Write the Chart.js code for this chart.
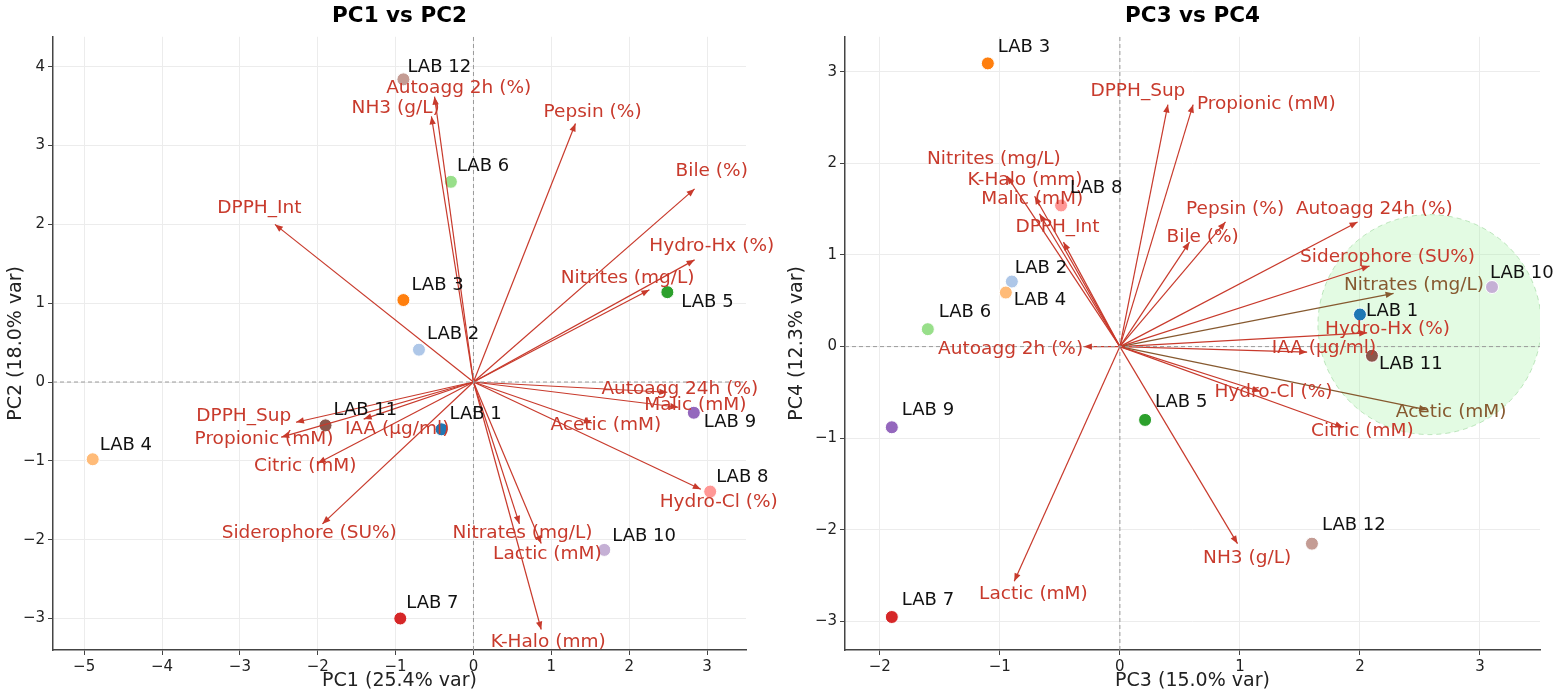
<!DOCTYPE html>
<html>
<head>
<meta charset="utf-8">
<script src="https://cdn.jsdelivr.net/npm/chart.js@4.4.1/dist/chart.umd.min.js"></script>
<style>
  body { margin: 0; background: #fff; }
  .box { position: absolute; top: 0; height: 697px; }
  #b1 { left: 0; width: 781px; }
  #b2 { left: 781px; width: 782px; }
</style>
</head>
<body>
<div class="box" id="b1"><canvas id="c1"></canvas></div>
<div class="box" id="b2"><canvas id="c2"></canvas></div>
<script>
// samples
const labs = ["LAB 1", "LAB 2", "LAB 3", "LAB 4", "LAB 5", "LAB 6", "LAB 7", "LAB 8", "LAB 9", "LAB 10", "LAB 11", "LAB 12"];
const pc1 = [-0.41, -0.70, -0.90, -4.89, 2.49, -0.29, -0.94, 3.04, 2.83, 1.68, -1.90, -0.90];
const pc2 = [-0.60, 0.41, 1.04, -0.98, 1.14, 2.54, -3.00, -1.39, -0.39, -2.13, -0.55, 3.84];
const pc3 = [2.00, -0.90, -1.10, -0.95, 0.21, -1.60, -1.90, -0.49, -1.90, 3.10, 2.10, 1.60];
const pc4 = [0.35, 0.71, 3.09, 0.59, -0.80, 0.19, -2.95, 1.54, -0.88, 0.65, -0.10, -2.15];

// variables (loading vectors, already scaled)
const variables = ["Autoagg 2h (%)", "Autoagg 24h (%)", "NH3 (g/L)", "Pepsin (%)", "Bile (%)", "DPPH_Int", "DPPH_Sup",
  "Hydro-Hx (%)", "Hydro-Cl (%)", "Nitrites (mg/L)", "Nitrates (mg/L)", "Malic (mM)", "Acetic (mM)", "Propionic (mM)",
  "Citric (mM)", "Lactic (mM)", "IAA (µg/ml)", "Siderophore (SU%)", "K-Halo (mm)"];
const load1 = [-0.50, 2.49, -0.54, 1.31, 2.84, -2.55, -2.28, 2.84, 2.92, 2.26, 0.59, 2.63, 1.52, -2.47, -2.00, 0.87, -1.41, -1.94, 0.87];
const load2 = [3.62, -0.13, 3.37, 3.28, 2.45, 2.00, -0.51, 1.55, -1.36, 1.17, -1.80, -0.32, -0.52, -0.70, -1.03, -2.05, -0.47, -1.80, -3.14];
const load3 = [-0.30, 1.98, 0.98, 0.88, 0.58, -0.47, 0.40, 2.06, 1.17, -0.94, 2.28, -0.67, 2.56, 0.61, 1.86, -0.88, 1.56, 2.08, -0.71];
const load4 = [0.00, 1.36, -2.15, 1.36, 1.14, 1.14, 2.64, 0.15, -0.49, 1.86, 0.58, 1.45, -0.69, 2.64, -0.88, -2.56, -0.06, 0.88, 1.64];

// where the variable names sit (text placement, data units)
const txt1 = [-0.19, 2.65, -1.00, 1.53, 3.06, -2.75, -2.95, 3.06, 3.15, 1.98, 0.63, 2.85, 1.70, -2.69, -2.16, 0.95, -0.98, -2.11, 0.96];
const txt2 = [3.73, -0.09, 3.48, 3.42, 2.68, 2.21, -0.43, 1.72, -1.52, 1.32, -1.92, -0.29, -0.55, -0.72, -1.07, -2.18, -0.60, -1.92, -3.30];
const txt3 = [-0.91, 2.12, 1.06, 0.96, 0.69, -0.52, 0.15, 2.23, 1.28, -1.05, 2.45, -0.73, 2.76, 1.22, 2.02, -0.72, 1.70, 2.23, -0.79];
const txt4 = [-0.03, 1.50, -2.31, 1.50, 1.19, 1.30, 2.79, 0.19, -0.50, 2.04, 0.67, 1.61, -0.72, 2.65, -0.92, -2.70, -0.02, 0.98, 1.82];

const labColors = ["#1f77b4", "#aec7e8", "#ff7f0e", "#ffbb78", "#2ca02c", "#98df8a", "#d62728", "#ff9896", "#9467bd", "#c5b0d5", "#8c564b", "#c49c94"];
const RED = "#c83a2c";
const BROWN = "#86592f";
const FONT = "'DejaVu Sans', Verdana, sans-serif";

// sample label offsets in px
const off12 = [[8,-15],[8,-15],[8,-15],[7,-14],[14,10],[6,-15],[6,-15],[6,-14],[10,10],[8,-14],[8,-15],[4,-12]];
const off34 = [[6,-3],[3,-13],[10,-16],[8,8],[10,-18],[11,-17],[10,-17],[9,-17],[10,-17],[-2,-14],[7,9],[10,-18]];

function fmt(v) {
  return v < 0 ? "\u2212" + Math.abs(v) : String(v);
}

const biplotDecor = {
  id: "biplotDecor",
  beforeDatasetsDraw(chart, args, opts) {
    if (!opts.ellipse) return;
    const { ctx, chartArea, scales } = chart;
    const e = opts.ellipse;
    const cx = scales.x.getPixelForValue(e.cx), cy = scales.y.getPixelForValue(e.cy);
    const rx = Math.abs(scales.x.getPixelForValue(e.cx + e.rx) - cx);
    const ry = Math.abs(scales.y.getPixelForValue(e.cy + e.ry) - cy);
    ctx.save();
    ctx.beginPath();
    ctx.rect(chartArea.left, chartArea.top, chartArea.right - chartArea.left, chartArea.bottom - chartArea.top);
    ctx.clip();
    ctx.beginPath();
    ctx.ellipse(cx, cy, rx, ry, 0, 0, Math.PI * 2);
    ctx.fillStyle = "rgba(144,238,144,0.25)";
    ctx.fill();
    ctx.setLineDash([5, 4]);
    ctx.strokeStyle = "rgba(120,200,120,0.45)";
    ctx.lineWidth = 1;
    ctx.stroke();
    ctx.restore();
  },
  afterDatasetsDraw(chart, args, opts) {
    const { ctx, scales } = chart;
    const xs = scales.x, ys = scales.y;
    const x0 = xs.getPixelForValue(0), y0 = ys.getPixelForValue(0);
    ctx.save();
    // arrow heads
    opts.lx.forEach((v, i) => {
      const x1 = xs.getPixelForValue(v), y1 = ys.getPixelForValue(opts.ly[i]);
      const a = Math.atan2(y1 - y0, x1 - x0);
      const len = 8, w = 3.2;
      ctx.beginPath();
      ctx.moveTo(x1, y1);
      ctx.lineTo(x1 - len * Math.cos(a) + w * Math.sin(a), y1 - len * Math.sin(a) - w * Math.cos(a));
      ctx.lineTo(x1 - len * Math.cos(a) - w * Math.sin(a), y1 - len * Math.sin(a) + w * Math.cos(a));
      ctx.closePath();
      ctx.fillStyle = opts.colors[i];
      ctx.fill();
    });
    // variable names
    ctx.font = "18.5px " + FONT;
    ctx.textAlign = "center";
    ctx.textBaseline = "middle";
    variables.forEach((name, i) => {
      ctx.fillStyle = opts.colors[i];
      ctx.fillText(name, xs.getPixelForValue(opts.tx[i]), ys.getPixelForValue(opts.ty[i]));
    });
    // sample names
    ctx.font = "18px " + FONT;
    ctx.textAlign = "left";
    ctx.fillStyle = "#111";
    labs.forEach((name, i) => {
      const px = xs.getPixelForValue(opts.px[i]), py = ys.getPixelForValue(opts.py[i]);
      ctx.fillText(name, px + opts.off[i][0], py + opts.off[i][1]);
    });
    ctx.restore();
  }
};

function makeBiplot(id, cfg) {
  const datasets = [];
  const zero = { showLine: true, pointRadius: 0, borderColor: "#9a9a9a", borderWidth: 1, borderDash: [4, 3] };
  datasets.push(Object.assign({ data: [{ x: 0, y: cfg.ymin }, { x: 0, y: cfg.ymax }] }, zero));
  datasets.push(Object.assign({ data: [{ x: cfg.xmin, y: 0 }, { x: cfg.xmax, y: 0 }] }, zero));
  cfg.lx.forEach((v, i) => {
    datasets.push({
      data: [{ x: 0, y: 0 }, { x: v, y: cfg.ly[i] }],
      showLine: true, pointRadius: 0, borderColor: cfg.colors[i], borderWidth: 1.2
    });
  });
  datasets.push({
    data: cfg.px.map((v, i) => ({ x: v, y: cfg.py[i] })),
    pointRadius: 6.5,
    pointBackgroundColor: labColors,
    pointBorderColor: "#fff",
    pointBorderWidth: 1
  });

  const axis = (min, max, title, pad) => ({
    type: "linear", min: min, max: max,
    afterBuildTicks: s => {
      const t = [];
      for (let v = Math.ceil(min); v <= Math.floor(max); v++) t.push({ value: v });
      s.ticks = t;
    },
    ticks: { stepSize: 1, callback: v => fmt(v), font: { family: FONT, size: 15 }, color: "#222", padding: 3 },
    grid: { color: "#ececec", lineWidth: 1, tickLength: 5, tickColor: "#444" },
    border: { color: "#444", width: 1.5 },
    title: { display: true, text: title, font: { family: FONT, size: 19 }, color: "#222", padding: pad }
  });
  const xAxis = axis(cfg.xmin, cfg.xmax, cfg.xTitle, { top: 2, bottom: 5 });
  xAxis.afterFit = s => { s.height = 47; };
  const yAxis = axis(cfg.ymin, cfg.ymax, cfg.yTitle, { top: 5, bottom: 2 });
  yAxis.afterFit = s => { s.width = cfg.yWidth; };

  return new Chart(document.getElementById(id), {
    type: "scatter",
    data: { datasets: datasets },
    options: {
      responsive: true,
      maintainAspectRatio: false,
      animation: false,
      layout: { padding: { top: 4, left: 0, right: cfg.padRight, bottom: 0 } },
      scales: { x: xAxis, y: yAxis },
      plugins: {
        legend: { display: false },
        tooltip: { enabled: false },
        title: {
          display: true, text: cfg.title, fullSize: false, color: "#000",
          font: { family: FONT, size: 21.5, weight: "bold" }, padding: { top: 0, bottom: 7 }
        },
        biplotDecor: {
          lx: cfg.lx, ly: cfg.ly, tx: cfg.tx, ty: cfg.ty, px: cfg.px, py: cfg.py,
          off: cfg.off, colors: cfg.colors, ellipse: cfg.ellipse
        }
      }
    },
    plugins: [biplotDecor]
  });
}

const redAll = variables.map(() => RED);
const colors34 = variables.map(v => (v === "Nitrates (mg/L)" || v === "Acetic (mM)") ? BROWN : RED);

makeBiplot("c1", {
  title: "PC1 vs PC2", xTitle: "PC1 (25.4% var)", yTitle: "PC2 (18.0% var)",
  xmin: -5.4, xmax: 3.5, ymin: -3.4, ymax: 4.38, yWidth: 53, padRight: 35,
  px: pc1, py: pc2, lx: load1, ly: load2, tx: txt1, ty: txt2, off: off12, colors: redAll
});

makeBiplot("c2", {
  title: "PC3 vs PC4", xTitle: "PC3 (15.0% var)", yTitle: "PC4 (12.3% var)",
  xmin: -2.29, xmax: 3.5, ymin: -3.31, ymax: 3.38, yWidth: 64, padRight: 23,
  px: pc3, py: pc4, lx: load3, ly: load4, tx: txt3, ty: txt4, off: off34, colors: colors34,
  ellipse: { cx: 2.58, cy: 0.24, rx: 0.93, ry: 1.2 }
});
</script>
</body>
</html>
